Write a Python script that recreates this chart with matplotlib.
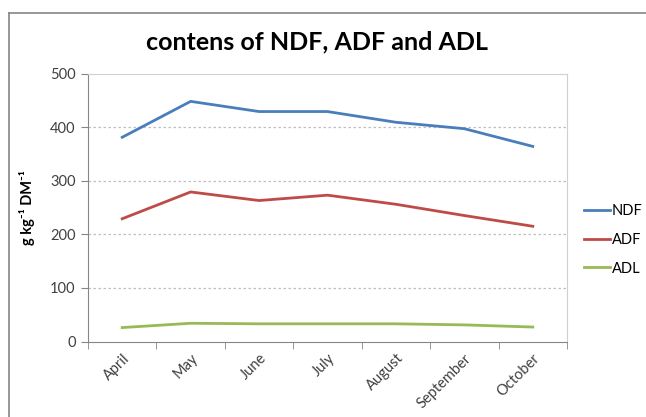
import matplotlib
matplotlib.use("Agg")
import matplotlib.pyplot as plt
from matplotlib.lines import Line2D

plt.rcParams['font.family'] = ['Lato', 'DejaVu Sans']

months = ["April", "May", "June", "July", "August", "September", "October"]
ndf = [381, 448, 429, 429, 409, 397, 364]
adf = [229, 279, 263, 273, 256, 235, 215]
adl = [26, 34, 33, 33, 33, 31, 27]

fig = plt.figure(figsize=(6.46, 4.17), dpi=100)
ax = fig.add_axes([88/646, 1-341.5/417, (567-88)/646, (341.5-73.5)/417])

x = range(len(months))
ax.plot(x, ndf, color="#4A7EBB", lw=2.0, label="NDF")
ax.plot(x, adf, color="#BE4B48", lw=2.0, label="ADF")
ax.plot(x, adl, color="#98B954", lw=2.0, label="ADL")

ax.set_xlim(-0.5, len(months) - 0.5)
ax.set_ylim(0, 500)
ax.set_yticks([0, 100, 200, 300, 400, 500])
ax.set_xticks(list(x))
ax.set_xticklabels(months, rotation=45, ha="right", rotation_mode="anchor")
ax.set_xticks([i + 0.5 for i in range(-1, len(months))], minor=True)
ax.tick_params(axis="x", which="major", length=0, pad=7, labelsize=10.5, labelcolor="#404040")
ax.tick_params(axis="x", which="minor", length=5, color="#868686", direction="out")
ax.tick_params(axis="y", length=5, color="#868686", labelsize=10.5, labelcolor="#404040", pad=4)

for y in [100, 200, 300, 400]:
    ax.axhline(y, color="#BFBFBF", lw=0.9, ls=(0, (2, 2)), zorder=0)

ax.spines["left"].set_color("#868686")
ax.spines["bottom"].set_color("#868686")
ax.spines["top"].set_color("#D0D0D0")
ax.spines["right"].set_color("#D0D0D0")

ax.set_ylabel("g kg⁻¹ DM⁻¹", fontsize=10.5, fontweight="bold")
ax.yaxis.set_label_coords((35-88)/479, 0.5)
fig.text(317/646, 1-42/417, "contens of NDF, ADF and ADL", ha="center", va="center",
         fontsize=18, fontweight="bold")

ax.legend(loc="center left", bbox_to_anchor=(1.035, (341.5-240)/268), frameon=False,
          borderaxespad=0, borderpad=0, handlelength=1.8, handletextpad=0.1,
          labelspacing=1.0, fontsize=10.5)

# outer chart frame (top and left edges visible)
fig.add_artist(Line2D([8.5/646, 8.5/646], [0, 1-13/417], color="#868686", lw=1.2,
                      transform=fig.transFigure))
fig.add_artist(Line2D([8.5/646, 1], [1-13/417, 1-13/417], color="#868686", lw=1.2,
                      transform=fig.transFigure))

fig.savefig("out.png", dpi=100)
